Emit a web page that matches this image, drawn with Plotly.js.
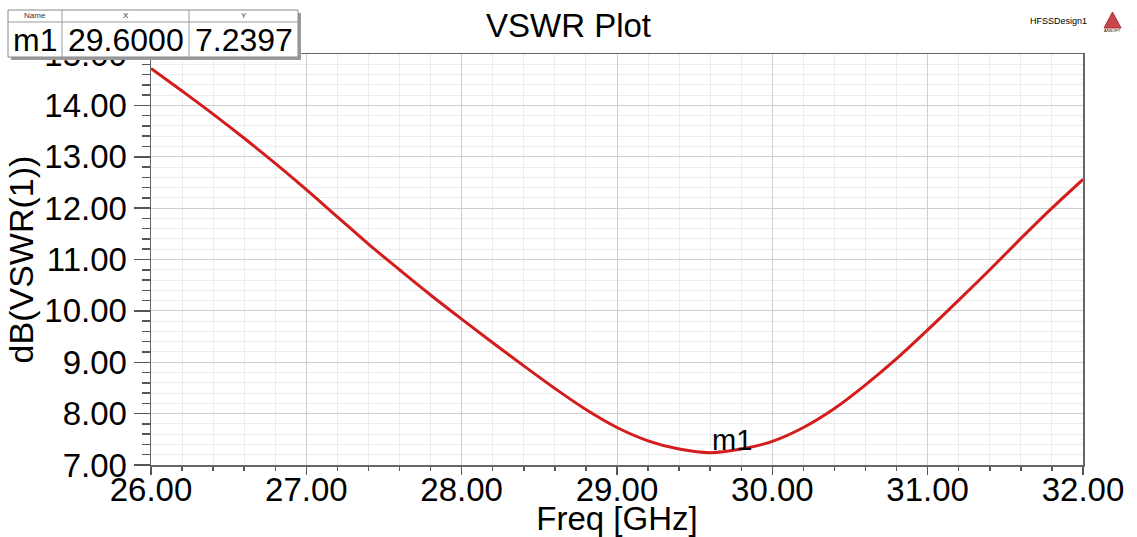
<!DOCTYPE html>
<html>
<head>
<meta charset="utf-8">
<script src="https://cdn.plot.ly/plotly-3.0.1.min.js"></script>
<style>html,body{margin:0;padding:0;background:#fff;}#chart{width:1137px;height:537px;}</style>
</head>
<body>
<div id="chart"></div>
<script>
// ---- data ----
const freqGHz = [26.0, 26.2, 26.4, 26.6, 26.8, 27.0, 27.2, 27.4, 27.6, 27.8, 28.0, 28.2, 28.4, 28.6, 28.8, 29.0, 29.2, 29.4, 29.6, 29.8, 30.0, 30.2, 30.4, 30.6, 30.8, 31.0, 31.2, 31.4, 31.6, 31.8, 32.0];
const vswrDB  = [14.72, 14.28, 13.83, 13.36, 12.87, 12.36, 11.83, 11.30, 10.80, 10.31, 9.84, 9.38, 8.93, 8.49, 8.08, 7.73, 7.47, 7.31, 7.24, 7.31, 7.46, 7.73, 8.10, 8.56, 9.07, 9.63, 10.21, 10.80, 11.41, 12.00, 12.56];
const markerName = 'm1';
const markerX = 29.6;
const markerY = 7.2397;
const tableHeaders = ['Name', 'X', 'Y'];
const chartTitle = 'VSWR Plot';
const xTitle = 'Freq [GHz]';
const yTitle = 'dB(VSWR(1))';
const designName = 'HFSSDesign1';

// ---- layout geometry (pixels) ----
const W = 1137, H = 537, L = 151, R = 1083, T = 54, B = 465;
const px = p => (p - L) / (R - L);
const py = p => (B - p) / (B - T);
const FONT = 'Liberation Sans, Arial, sans-serif';

const trace = {
  x: freqGHz, y: vswrDB, type: 'scatter', mode: 'lines',
  line: {color: 'rgb(212,28,28)', width: 3, shape: 'spline', smoothing: 1},
  hoverinfo: 'x+y'
};

// marker table cells
const colEdges = [8, 62, 189, 298];
const tTop = 10, tMid = 22, tBot = 57;
const shapes = [];
shapes.push({type: 'rect', xref: 'paper', yref: 'paper', x0: px(colEdges[0] + 3), x1: px(colEdges[3] + 3), y0: py(tTop + 3), y1: py(tBot + 3), fillcolor: '#9a9a9a', line: {width: 0}, layer: 'above'});
shapes.push({type: 'rect', xref: 'paper', yref: 'paper', x0: px(colEdges[0]), x1: px(colEdges[3]), y0: py(tTop), y1: py(tBot), fillcolor: '#ffffff', line: {color: '#8a8a8a', width: 1}, layer: 'above'});
shapes.push({type: 'line', xref: 'paper', yref: 'paper', x0: px(colEdges[0]), x1: px(colEdges[3]), y0: py(tMid), y1: py(tMid), line: {color: '#9a9a9a', width: 1}, layer: 'above'});
[1, 2].forEach(i => shapes.push({type: 'line', xref: 'paper', yref: 'paper', x0: px(colEdges[i]), x1: px(colEdges[i]), y0: py(tTop), y1: py(tBot), line: {color: '#9a9a9a', width: 1}, layer: 'above'}));
// Ansoft logo triangle
shapes.push({type: 'path', xref: 'paper', yref: 'paper',
  path: `M ${px(1104)} ${py(28)} L ${px(1112.5)} ${py(12)} L ${px(1121)} ${py(28)} Z`,
  fillcolor: '#c8464a', line: {color: '#a83036', width: 1}, layer: 'above'});

const annotations = [];
const cellVals = [markerName, markerX.toFixed(4), markerY.toFixed(4)];
for (let i = 0; i < 3; i++) {
  const cx = (colEdges[i] + colEdges[i + 1]) / 2;
  annotations.push({xref: 'paper', yref: 'paper', x: px(cx), y: py(16), text: tableHeaders[i], showarrow: false, xanchor: 'center', yanchor: 'middle', font: {family: FONT, size: 8, color: '#333'}});
  annotations.push({xref: 'paper', yref: 'paper', x: px(cx), y: py(40), text: cellVals[i], showarrow: false, xanchor: 'center', yanchor: 'middle', font: {family: FONT, size: 32, color: '#000'}});
}
annotations.push({x: markerX, y: markerY, xref: 'x', yref: 'y', text: markerName, showarrow: false, xanchor: 'left', yanchor: 'bottom', yshift: -5, xshift: 0, font: {family: FONT, size: 29, color: '#000'}});
annotations.push({xref: 'paper', yref: 'paper', x: px(1058), y: py(21), text: designName, showarrow: false, xanchor: 'center', yanchor: 'middle', font: {family: FONT, size: 9, color: '#000'}});
annotations.push({xref: 'paper', yref: 'paper', x: px(1112.5), y: py(31), text: 'ANSOFT', showarrow: false, xanchor: 'center', yanchor: 'middle', font: {family: FONT, size: 4, color: '#000'}});

const axisCommon = {
  showline: true, mirror: true, linecolor: '#666', linewidth: 1.5,
  showgrid: true, gridcolor: '#cfcfcf', gridwidth: 1,
  zeroline: false, tickformat: '.2f', ticks: 'outside', tickcolor: '#555',
  tickfont: {family: FONT, size: 33, color: '#000'}, automargin: false
};

const layout = {
  width: W, height: H,
  margin: {l: L, r: W - R, t: T, b: H - B, pad: 0},
  paper_bgcolor: '#fff', plot_bgcolor: '#fff',
  showlegend: false,
  title: {text: chartTitle, x: 0.5, xref: 'container', y: 1 - 25 / H, yref: 'container', xanchor: 'center', yanchor: 'middle', font: {family: FONT, size: 33, color: '#000'}},
  xaxis: Object.assign({}, axisCommon, {
    range: [26, 32], dtick: 1, tick0: 26, ticklen: 8, tickwidth: 1.5, ticklabelstandoff: -13,
    minor: {dtick: 0.2, ticks: 'outside', ticklen: 4, tickcolor: '#555', showgrid: true, gridcolor: '#ececec', gridwidth: 1},
    title: {text: xTitle, standoff: 3, font: {family: FONT, size: 33, color: '#000'}}
  }),
  yaxis: Object.assign({}, axisCommon, {
    range: [7, 15], dtick: 1, tick0: 7, ticklen: 16, tickwidth: 1.5,
    minor: {dtick: 0.2, ticks: 'outside', ticklen: 8, tickcolor: '#555', showgrid: true, gridcolor: '#ececec', gridwidth: 1},
    title: {text: yTitle, standoff: 0, font: {family: FONT, size: 34, color: '#000'}}
  }),
  shapes: shapes,
  annotations: annotations
};

Plotly.newPlot('chart', [trace], layout, {displayModeBar: false, staticPlot: true});
</script>
</body>
</html>
